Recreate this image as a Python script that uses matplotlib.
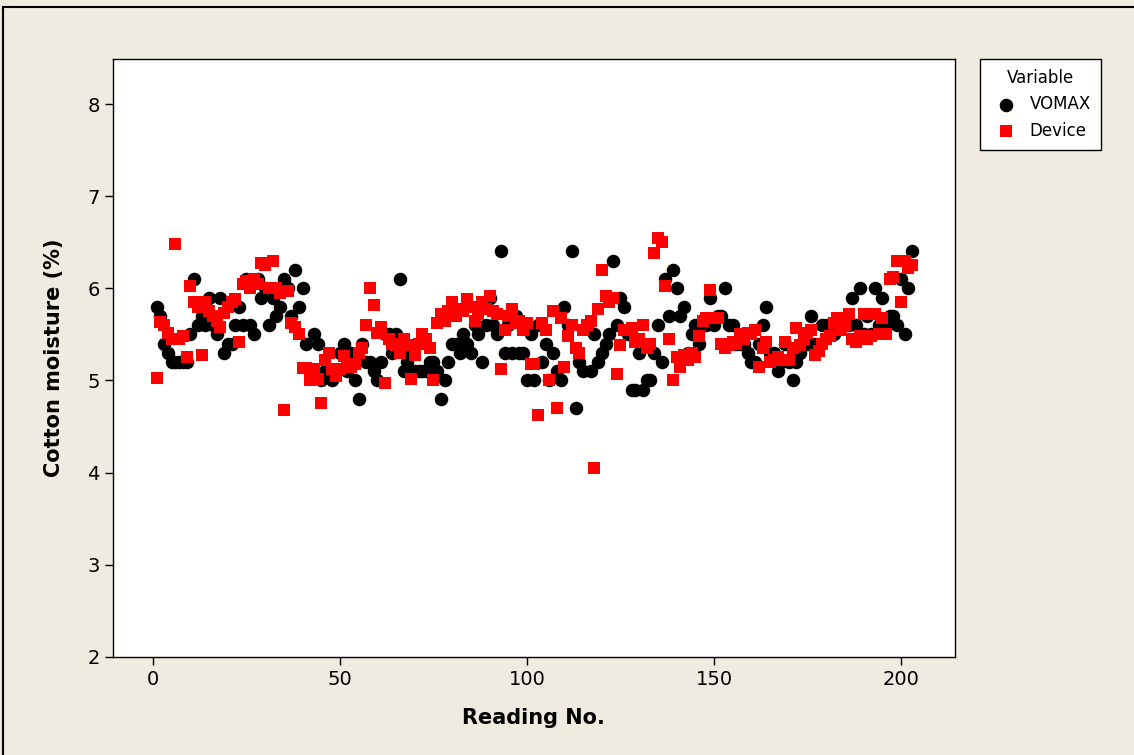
import matplotlib.pyplot as plt
from matplotlib.patches import Rectangle

vomax = [5.8, 5.7, 5.4, 5.3, 5.2, 5.2, 5.2, 5.2, 5.2, 5.5,
         6.1, 5.6, 5.7, 5.6, 5.9, 5.6, 5.5, 5.9, 5.3, 5.4,
         5.4, 5.6, 5.8, 5.6, 6.1, 5.6, 5.5, 6.1, 5.9, 6.0,
         5.6, 5.9, 5.7, 5.8, 6.1, 6.0, 5.7, 6.2, 5.8, 6.0,
         5.4, 5.1, 5.5, 5.4, 5.0, 5.1, 5.1, 5.0, 5.1, 5.3,
         5.4, 5.1, 5.3, 5.0, 4.8, 5.4, 5.2, 5.2, 5.1, 5.0,
         5.2, 5.5, 5.5, 5.3, 5.5, 6.1, 5.1, 5.2, 5.3, 5.1,
         5.1, 5.1, 5.1, 5.2, 5.2, 5.1, 4.8, 5.0, 5.2, 5.4,
         5.4, 5.3, 5.5, 5.4, 5.3, 5.6, 5.5, 5.2, 5.6, 5.9,
         5.6, 5.5, 6.4, 5.3, 5.6, 5.3, 5.7, 5.3, 5.3, 5.0,
         5.5, 5.0, 5.6, 5.2, 5.4, 5.0, 5.3, 5.1, 5.0, 5.8,
         5.6, 6.4, 4.7, 5.2, 5.1, 5.6, 5.1, 5.5, 5.2, 5.3,
         5.4, 5.5, 6.3, 5.6, 5.9, 5.8, 5.5, 4.9, 4.9, 5.3,
         4.9, 5.0, 5.0, 5.3, 5.6, 5.2, 6.1, 5.7, 6.2, 6.0,
         5.7, 5.8, 5.3, 5.5, 5.6, 5.4, 5.6, 5.6, 5.9, 5.6,
         5.7, 5.7, 6.0, 5.6, 5.6, 5.4, 5.4, 5.4, 5.3, 5.2,
         5.2, 5.4, 5.6, 5.8, 5.3, 5.3, 5.1, 5.2, 5.4, 5.2,
         5.0, 5.2, 5.3, 5.4, 5.4, 5.7, 5.4, 5.4, 5.6, 5.6,
         5.5, 5.5, 5.6, 5.6, 5.6, 5.6, 5.9, 5.6, 6.0, 5.5,
         5.7, 5.5, 6.0, 5.6, 5.9, 5.6, 5.7, 5.7, 5.6, 6.1,
         5.5, 6.0, 6.4]

device = [5.03, 5.63, 5.60, 5.52, 5.45, 6.48, 5.45, 5.48, 5.25, 6.02,
          5.85, 5.80, 5.28, 5.85, 5.75, 5.70, 5.65, 5.58, 5.73, 5.80,
          5.85, 5.88, 5.42, 6.05, 6.08, 6.00, 6.10, 6.05, 6.28, 6.25,
          6.00, 6.30, 6.00, 5.95, 4.68, 5.97, 5.62, 5.58, 5.50, 5.13,
          5.13, 5.00, 5.12, 5.02, 4.75, 5.22, 5.30, 5.12, 5.05, 5.12,
          5.27, 5.15, 5.15, 5.18, 5.30, 5.35, 5.60, 6.00, 5.82, 5.52,
          5.58, 4.97, 5.45, 5.40, 5.38, 5.30, 5.45, 5.38, 5.02, 5.28,
          5.40, 5.50, 5.45, 5.35, 5.00, 5.62, 5.72, 5.65, 5.75, 5.85,
          5.70, 5.78, 5.75, 5.88, 5.80, 5.65, 5.72, 5.85, 5.78, 5.92,
          5.75, 5.72, 5.12, 5.55, 5.70, 5.78, 5.62, 5.65, 5.55, 5.62,
          5.18, 5.18, 4.62, 5.62, 5.55, 5.00, 5.75, 4.70, 5.68, 5.15,
          5.48, 5.60, 5.35, 5.30, 5.55, 5.60, 5.65, 4.05, 5.78, 6.20,
          5.92, 5.85, 5.90, 5.07, 5.38, 5.55, 5.55, 5.57, 5.42, 5.45,
          5.60, 5.35, 5.40, 6.38, 6.55, 6.50, 6.03, 5.45, 5.00, 5.25,
          5.15, 5.28, 5.22, 5.30, 5.25, 5.48, 5.65, 5.68, 5.98, 5.68,
          5.68, 5.40, 5.35, 5.38, 5.42, 5.40, 5.50, 5.45, 5.52, 5.50,
          5.55, 5.15, 5.35, 5.42, 5.20, 5.22, 5.25, 5.22, 5.42, 5.22,
          5.35, 5.57, 5.38, 5.45, 5.52, 5.55, 5.28, 5.32, 5.40, 5.45,
          5.48, 5.62, 5.68, 5.55, 5.60, 5.72, 5.45, 5.42, 5.48, 5.72,
          5.45, 5.48, 5.72, 5.50, 5.68, 5.50, 6.10, 6.12, 6.30, 5.85,
          6.30, 6.22, 6.25]

reading = list(range(1, len(vomax) + 1))

bg = '#efebe0'
fig = plt.figure(figsize=(11.34, 7.55), dpi=100, facecolor=bg)
ax = fig.add_axes([0.0996, 0.130, 0.7424, 0.792])
ax.set_facecolor('white')

ax.scatter(reading, vomax, s=95, marker='o', color='black', linewidths=0, label='VOMAX', zorder=3)
ax.scatter(reading, device, s=70, marker='s', color='#ff0000', linewidths=0, label='Device', zorder=4)

ax.set_xlim(-10.7, 214.4)
ax.set_ylim(2, 8.49)
ax.set_xticks([0, 50, 100, 150, 200])
ax.set_yticks([2, 3, 4, 5, 6, 7, 8])
ax.tick_params(direction='out', length=6, width=1, labelsize=14, colors='black')
for s in ax.spines.values():
    s.set_linewidth(1)
ax.set_xlabel('Reading No.', fontsize=15, fontweight='bold', labelpad=14)
ax.set_ylabel('Cotton moisture (%)', fontsize=15, fontweight='bold', labelpad=17)

leg = fig.legend(loc='upper left', bbox_to_anchor=(0.864, 0.922), borderaxespad=0,
                 title='Variable', fontsize=12, title_fontsize=12, fancybox=False,
                 edgecolor='black', framealpha=1, handletextpad=0.4, borderpad=0.6,
                 markerscale=1.0)
leg.get_frame().set_linewidth(1)

fig.patches.append(Rectangle((3 / 1134, -0.05), 1.1, 0.05 + (755 - 7) / 755,
                             transform=fig.transFigure, fill=False,
                             edgecolor='black', linewidth=1.5))

fig.savefig('out.png', dpi=100, facecolor=bg)
